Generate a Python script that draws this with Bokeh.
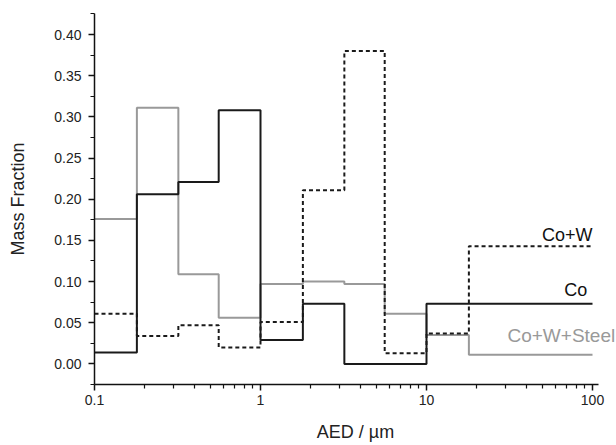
from bokeh.plotting import figure
from bokeh.models import Range1d, FixedTicker, PrintfTickFormatter, Label
from bokeh.embed import file_html
from bokeh.resources import INLINE

# bin edges (AED / µm) and mass fractions per bin
edges = [0.1, 0.18, 0.32, 0.56, 1.0, 1.8, 3.2, 5.6, 10.0, 18.0, 100.0]
co = [0.014, 0.206, 0.221, 0.308, 0.029, 0.073, 0.0, 0.0, 0.073, 0.073]
co_w = [0.061, 0.034, 0.047, 0.020, 0.051, 0.211, 0.380, 0.013, 0.037, 0.143]
co_w_steel = [0.176, 0.311, 0.109, 0.056, 0.097, 0.100, 0.097, 0.061, 0.035, 0.011]

x_major = [0.1, 1, 10, 100]
x_minor = [0.2, 0.3, 0.4, 0.5, 0.6, 0.7, 0.8, 0.9,
           2, 3, 4, 5, 6, 7, 8, 9,
           20, 30, 40, 50, 60, 70, 80, 90]
y_major = [0.00, 0.05, 0.10, 0.15, 0.20, 0.25, 0.30, 0.35, 0.40]
y_minor = [-0.025, 0.025, 0.075, 0.125, 0.175, 0.225, 0.275, 0.325, 0.375, 0.425]

labels = ["Co+W", "Co", "Co+W+Steel"]
label_x = [100, 93, 137]
label_y = [0.157, 0.090, 0.034]
label_colors = ["#111111", "#111111", "#999999"]
label_sizes = ["18px", "18px", "19px"]

FONT = "Liberation Sans"

p = figure(width=616, height=445, x_axis_type="log",
           x_range=Range1d(0.1, 139.5), y_range=Range1d(-0.025, 0.4255),
           output_backend="svg", toolbar_location=None,
           min_border_left=94, min_border_right=0, min_border_top=13,
           min_border_bottom=61)
p.outline_line_color = None
p.xgrid.visible = False
p.ygrid.visible = False
p.background_fill_color = "white"

def steps(vals):
    return vals + [vals[-1]]

p.step(edges, steps(co_w_steel), mode="after", line_color="#999999", line_width=2)
p.step(edges, steps(co), mode="after", line_color="#1a1a1a", line_width=2)
p.step(edges, steps(co_w), mode="after", line_color="#1a1a1a", line_width=2,
       line_dash="4 3")

for t, lx, ly, c, fs in zip(labels, label_x, label_y, label_colors, label_sizes):
    p.add_layout(Label(x=lx, y=ly, text=t, text_align="right",
                       text_baseline="middle", text_color=c,
                       text_font=FONT, text_font_size=fs))

for ax in (p.xaxis[0], p.yaxis[0]):
    ax.axis_line_color = "#111111"
    ax.axis_line_width = 1.5
    ax.major_tick_line_color = "#111111"
    ax.minor_tick_line_color = "#111111"
    ax.major_tick_line_width = 1.5
    ax.minor_tick_line_width = 1.2
    ax.major_tick_in = 0
    ax.major_tick_out = 6
    ax.minor_tick_in = 0
    ax.minor_tick_out = 4
    ax.major_label_text_font = FONT
    ax.major_label_text_font_size = "14px"
    ax.major_label_text_color = "#222222"
    ax.axis_label_text_font = FONT
    ax.axis_label_text_font_size = "18px"
    ax.axis_label_text_font_style = "normal"
    ax.axis_label_text_color = "#222222"

p.xaxis.ticker = FixedTicker(ticks=x_major, minor_ticks=x_minor)
p.xaxis.formatter = PrintfTickFormatter(format="%g")
p.xaxis.bounds = (0.1, 108.7)
p.xaxis.axis_label = "AED / µm"
p.xaxis.major_label_standoff = 4
p.xaxis.axis_label_standoff = 14

p.yaxis.ticker = FixedTicker(ticks=y_major, minor_ticks=y_minor)
p.yaxis.formatter = PrintfTickFormatter(format="%.2f")
p.yaxis.axis_label = "Mass Fraction"
p.yaxis.major_label_standoff = 7
p.yaxis.axis_label_standoff = 23

open("out.html", "w").write(file_html(p, INLINE))
